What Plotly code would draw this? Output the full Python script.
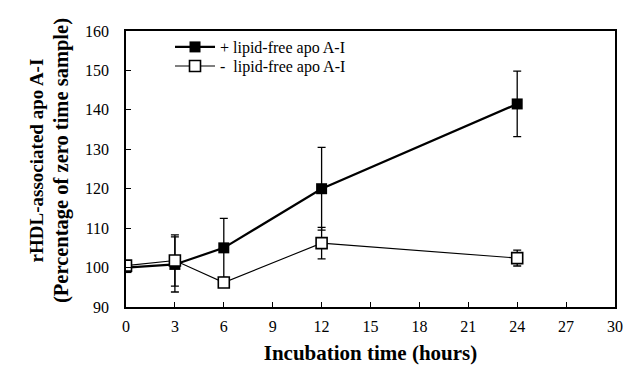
import plotly.graph_objects as go

hours = [0, 3, 6, 12, 24]
with_apo = [100, 100.8, 105, 120, 141.5]
with_apo_err = [0.8, 7, 7.5, 10.5, 8.3]
without_apo = [100.5, 101.8, 96.2, 106.2, 102.4]
without_apo_err = [0.5, 6.5, 1, 4, 2]

x_ticks = [0, 3, 6, 9, 12, 15, 18, 21, 24, 27, 30]
y_ticks = [90, 100, 110, 120, 130, 140, 150, 160]

font_family = "Liberation Serif, Times New Roman, serif"

fig = go.Figure()
fig.add_trace(go.Scatter(
    x=hours, y=with_apo, name="+ lipid-free apo A-I",
    mode="lines+markers", legend="legend",
    line=dict(color="black", width=2.2),
    marker=dict(symbol="square", size=11, color="black"),
    error_y=dict(type="data", array=with_apo_err, visible=True,
                 color="black", thickness=1.3, width=4),
))
fig.add_trace(go.Scatter(
    x=hours, y=without_apo, name="-  lipid-free apo A-I",
    mode="lines+markers", legend="legend2",
    line=dict(color="black", width=1.1),
    marker=dict(symbol="square", size=11, color="white",
                line=dict(color="black", width=1.6)),
    error_y=dict(type="data", array=without_apo_err, visible=True,
                 color="black", thickness=1.3, width=4),
))

legend_style = dict(xanchor="left", yanchor="middle", bgcolor="rgba(0,0,0,0)",
                    font=dict(size=16), itemwidth=40)

fig.update_layout(
    width=628, height=374,
    margin=dict(l=126, r=13, t=31, b=67, autoexpand=False),
    paper_bgcolor="white", plot_bgcolor="white",
    font=dict(family=font_family, color="black", size=16),
    showlegend=True,
    legend=dict(x=0.09, y=0.942, **legend_style),
    legend2=dict(x=0.09, y=0.873, **legend_style),
    xaxis=dict(
        range=[0, 30], tickvals=x_ticks, ticktext=[str(v) for v in x_ticks],
        showline=True, linecolor="black", linewidth=1.5, mirror=True,
        ticks="inside", ticklen=5, tickcolor="black", tickwidth=1,
        showgrid=False, zeroline=False,
        title=dict(text="<b>Incubation time (hours)</b>", font=dict(size=21),
                   standoff=11),
        tickfont=dict(size=16), ticklabelstandoff=4,
    ),
    yaxis=dict(
        range=[90, 160], tickvals=y_ticks, ticktext=[str(v) for v in y_ticks],
        showline=True, linecolor="black", linewidth=1.5, mirror=True,
        ticks="inside", ticklen=5, tickcolor="black", tickwidth=1,
        showgrid=False, zeroline=False,
        tickfont=dict(size=16), ticklabelstandoff=12,
    ),
    annotations=[dict(
        text=("<b>rHDL-associated apo A-I<br>"
              "<span style='font-size:20.5px'>(Percentage of zero time sample)</span></b>"),
        xref="paper", yref="paper", x=0, y=0.5, xanchor="center", yanchor="middle",
        xshift=-77, yshift=8, textangle=-90, showarrow=False,
        font=dict(size=19, family=font_family, color="black"),
    )],
)

fig.write_html(
    "out.html",
    config={"displayModeBar": False},
    post_script="document.body.style.margin='0';document.documentElement.style.overflow='hidden';document.body.style.overflow='hidden';",
)
